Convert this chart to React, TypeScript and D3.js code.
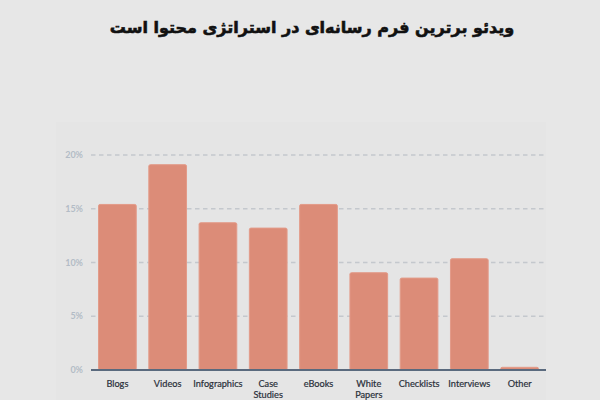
import React from "react";
import * as d3 from "d3";

const title = "ویدئو برترین فرم رسانه‌ای در استراتژی محتوا است";
const categories = ["Blogs", "Videos", "Infographics", "Case\nStudies", "eBooks", "White\nPapers", "Checklists", "Interviews", "Other"];
const values = [15.4, 19.1, 13.7, 13.2, 15.4, 9.05, 8.55, 10.35, 0.25];
const yTicks = [0, 5, 10, 15, 20];

export default function App() {
  const W = 600, H = 400;
  const x = d3.scaleBand<string>().domain(categories).range([91, 546]).paddingInner(0.25).paddingOuter(0.15);
  const y = d3.scaleLinear().domain([0, 20]).range([370, 155]);
  return (
    <svg width={W} height={H} style={{ position: "absolute", left: 0, top: 0, display: "block" }}>
      <rect x={0} y={0} width={W} height={H} fill="#e7e7e7" />
      <rect x={56} y={122} width={490} height={278} fill="#e5e5e5" />
      <text x={312} y={33} textAnchor="middle" fontFamily="DejaVu Sans" fontWeight="bold" fontSize={16} fill="#111" stroke="#111" strokeWidth={0.6} direction="rtl">{title}</text>
      {yTicks.map((t) => (
        <g key={t}>
          {t > 0 && (
            <line x1={91} x2={546} y1={y(t)} y2={y(t)} stroke="#c4c8cd" strokeWidth={1.3} strokeDasharray="4.5 3.5" />
          )}
          <text x={83} y={y(t) + 3} textAnchor="end" fontFamily="Lato" fontWeight="bold" fontSize={9} fill="#b3bcc6">{t + "%"}</text>
        </g>
      ))}
      {categories.map((c, i) => {
        const top = y(values[i]);
        return (
          <rect key={c} x={x(c)} y={top} width={x.bandwidth()} height={370 - top} rx={1.5} fill="#dc8c78" stroke="#e39b89" strokeWidth={1} />
        );
      })}
      <line x1={91} x2={546} y1={370} y2={370} stroke="#5a6a7e" strokeWidth={1.8} />
      {categories.map((c) => {
        const cx = (x(c) as number) + x.bandwidth() / 2;
        return (
          <text key={c} x={cx} y={387} textAnchor="middle" fontFamily="Lato" fontSize={9.2} fill="#2a303a" stroke="#2a303a" strokeWidth={0.2}>
            {c.split("\n").map((line, j) => (
              <tspan key={j} x={cx} dy={j === 0 ? 0 : 10.5}>{line}</tspan>
            ))}
          </text>
        );
      })}
    </svg>
  );
}
